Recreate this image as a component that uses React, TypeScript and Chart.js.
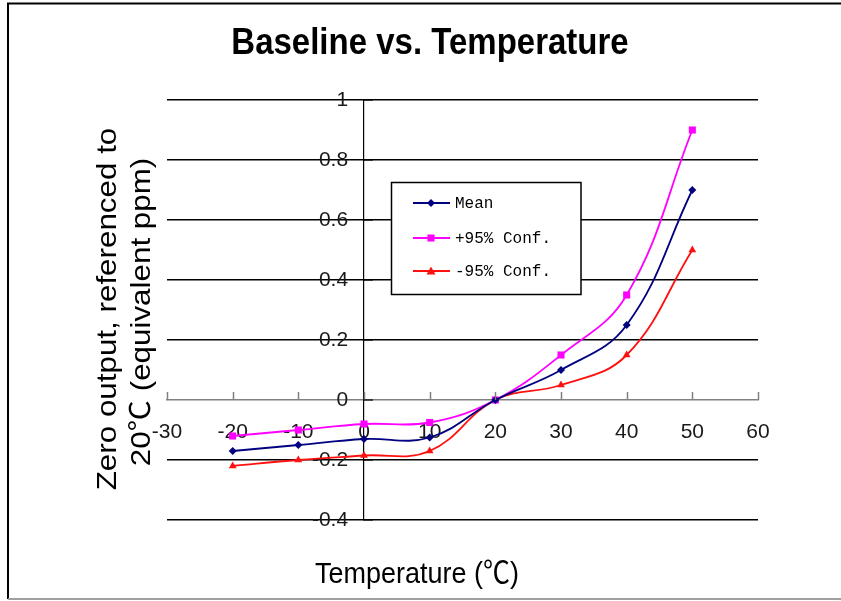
import React, { useEffect, useRef } from 'react';
import { Chart, registerables } from 'chart.js';

Chart.register(...registerables);

// ---- data ----
const temperatures = [-20, -10, 0, 10, 20, 30, 40, 50];
const meanValues = [-0.17, -0.15, -0.13, -0.125, 0, 0.1, 0.25, 0.7];
const plus95Values = [-0.12, -0.1, -0.08, -0.075, 0, 0.15, 0.35, 0.9];
const minus95Values = [-0.22, -0.2, -0.185, -0.17, 0, 0.05, 0.15, 0.5];
const seriesLabels = ['Mean', '+95% Conf.', '-95% Conf.'];
const chartTitle = 'Baseline vs. Temperature';
const xAxisTitle = 'Temperature (℃)';
const yAxisTitleLines = ['Zero output, referenced to', '20℃ (equivalent ppm)'];
const xRange = { min: -30, max: 60, step: 10 };
const yRange = { min: -0.4, max: 1, step: 0.2 };

const SANS = '"Liberation Sans", Arial, "Noto Sans CJK SC", sans-serif';
const MONO = '"Liberation Mono", "Courier New", monospace';

function drawMarker(ctx: CanvasRenderingContext2D, style: string, x: number, y: number, r: number, color: string) {
  ctx.save();
  ctx.fillStyle = color;
  ctx.strokeStyle = color;
  ctx.beginPath();
  if (style === 'rectRot') {
    ctx.moveTo(x, y - r);
    ctx.lineTo(x + r, y);
    ctx.lineTo(x, y + r);
    ctx.lineTo(x - r, y);
  } else if (style === 'rect') {
    const s = r * Math.SQRT1_2;
    ctx.rect(x - s, y - s, 2 * s, 2 * s);
  } else {
    const h = r * 1.5;
    ctx.moveTo(x, y - r);
    ctx.lineTo(x + r * 0.866 * 1.15, y + h / 2);
    ctx.lineTo(x - r * 0.866 * 1.15, y + h / 2);
  }
  ctx.closePath();
  ctx.fill();
  ctx.restore();
}

const decorPlugin = {
  id: 'decor',
  beforeDraw(chart: any) {
    const ctx: CanvasRenderingContext2D = chart.ctx;
    ctx.save();
    ctx.fillStyle = '#ffffff';
    ctx.fillRect(0, 0, chart.width, chart.height);
    ctx.strokeStyle = '#000000';
    ctx.lineWidth = 2;
    ctx.beginPath();
    ctx.moveTo(8, 599);
    ctx.lineTo(8, 3.5);
    ctx.lineTo(chart.width, 3.5);
    ctx.stroke();
    ctx.strokeStyle = '#a0a0a0';
    ctx.beginPath();
    ctx.moveTo(8, 599);
    ctx.lineTo(chart.width, 599);
    ctx.stroke();
    ctx.restore();
  },
  afterDraw(chart: any) {
    const ctx: CanvasRenderingContext2D = chart.ctx;
    const xs = chart.scales.x;
    const ys = chart.scales.y;
    const x0 = xs.getPixelForValue(0);
    const y0 = ys.getPixelForValue(0);

    ctx.save();
    // x-axis tick marks pointing up
    ctx.strokeStyle = '#808080';
    ctx.lineWidth = 1.5;
    xs.ticks.forEach((t: any) => {
      const px = Math.round(xs.getPixelForValue(t.value)) + 0.5;
      ctx.beginPath();
      ctx.moveTo(px, y0);
      ctx.lineTo(px, y0 - 8);
      ctx.stroke();
    });
    // y-axis tick marks pointing right
    ctx.strokeStyle = '#000000';
    ctx.lineWidth = 1.2;
    ys.ticks.forEach((t: any) => {
      const py = ys.getPixelForValue(t.value);
      ctx.beginPath();
      ctx.moveTo(x0, py);
      ctx.lineTo(x0 + 9, py);
      ctx.stroke();
    });

    // title
    ctx.fillStyle = '#000000';
    ctx.save();
    ctx.translate(430, 54);
    ctx.scale(1, 1.12);
    ctx.font = `bold 33px ${SANS}`;
    ctx.textAlign = 'center';
    ctx.textBaseline = 'alphabetic';
    ctx.fillText(chartTitle, 0, 0);
    ctx.restore();

    // x axis title
    ctx.save();
    ctx.translate(417, 583);
    ctx.scale(1, 1.12);
    ctx.font = `27px ${SANS}`;
    ctx.textAlign = 'center';
    ctx.textBaseline = 'alphabetic';
    ctx.fillText(xAxisTitle, 0, 0);
    ctx.restore();

    // y axis title (two lines)
    const yCenters = [[108, 309], [142, 312]];
    yAxisTitleLines.forEach((line, i) => {
      ctx.save();
      ctx.translate(yCenters[i][0], yCenters[i][1]);
      ctx.rotate(-Math.PI / 2);
      ctx.scale(1.12, 1);
      ctx.font = `28px ${SANS}`;
      ctx.textAlign = 'center';
      ctx.textBaseline = 'middle';
      ctx.fillText(line, 0, 0);
      ctx.restore();
    });

    // legend box
    const bx = 391.5, by = 182.5, bw = 189.5, bh = 112;
    ctx.fillStyle = '#ffffff';
    ctx.fillRect(bx, by, bw, bh);
    ctx.strokeStyle = '#000000';
    ctx.lineWidth = 1.5;
    ctx.strokeRect(bx, by, bw, bh);
    const rows = [203, 238, 271];
    chart.data.datasets.forEach((ds: any, i: number) => {
      const ry = rows[i];
      ctx.strokeStyle = ds.borderColor;
      ctx.lineWidth = ds.borderWidth;
      ctx.beginPath();
      ctx.moveTo(413, ry);
      ctx.lineTo(450, ry);
      ctx.stroke();
      drawMarker(ctx, ds.pointStyle, 431, ry, ds.pointRadius, ds.borderColor);
      ctx.fillStyle = '#000000';
      ctx.font = `16px ${MONO}`;
      ctx.textAlign = 'left';
      ctx.textBaseline = 'middle';
      ctx.fillText(ds.label, 455, ry + 1);
    });
    ctx.restore();
  },
};

function toPoints(values: number[]) {
  return temperatures.map((t, i) => ({ x: t, y: values[i] }));
}

export default function App() {
  const canvasRef = useRef<HTMLCanvasElement | null>(null);

  useEffect(() => {
    const canvas = canvasRef.current;
    if (!canvas) return;
    const chart = new Chart(canvas, {
      type: 'line',
      data: {
        datasets: [
          {
            label: seriesLabels[0],
            data: toPoints(meanValues),
            borderColor: '#000080',
            backgroundColor: '#000080',
            pointStyle: 'rectRot',
            pointRadius: 4,
            pointBorderWidth: 0,
            borderWidth: 1.8,
            tension: 0.4,
            fill: false,
          },
          {
            label: seriesLabels[1],
            data: toPoints(plus95Values),
            borderColor: '#ff00ff',
            backgroundColor: '#ff00ff',
            pointStyle: 'rect',
            pointRadius: 5,
            pointBorderWidth: 0,
            borderWidth: 1.8,
            tension: 0.4,
            fill: false,
          },
          {
            label: seriesLabels[2],
            data: toPoints(minus95Values),
            borderColor: '#ff1010',
            backgroundColor: '#ff1010',
            pointStyle: 'triangle',
            pointRadius: 4.5,
            pointBorderWidth: 0,
            borderWidth: 1.8,
            tension: 0.4,
            fill: false,
          },
        ],
      } as any,
      options: {
        responsive: false,
        animation: false,
        layout: { padding: { left: 167, right: 83, top: 100, bottom: 81 } },
        plugins: {
          legend: { display: false },
          title: { display: false },
          tooltip: { enabled: false },
        },
        scales: {
          x: {
            type: 'linear',
            position: { y: 0 } as any,
            min: xRange.min,
            max: xRange.max,
            ticks: {
              stepSize: xRange.step,
              padding: 20,
              autoSkip: false,
              maxRotation: 0,
              color: '#1a1a1a',
              font: { size: 21, family: SANS },
            },
            grid: { drawOnChartArea: false, drawTicks: false },
            border: { color: '#808080', width: 1.5 },
          },
          y: {
            type: 'linear',
            position: { x: 0 } as any,
            min: yRange.min,
            max: yRange.max,
            ticks: {
              stepSize: yRange.step,
              color: '#1a1a1a',
              font: { size: 21, family: SANS },
              callback: (v: any) => `${Number(Number(v).toFixed(1))}  \u2009`,
            },
            grid: {
              drawTicks: false,
              lineWidth: 1.5,
              color: (c: any) => (c.tick && Math.abs(c.tick.value) < 1e-9 ? 'rgba(0,0,0,0)' : '#000000'),
            },
            border: { color: '#000000', width: 1.2 },
          },
        },
      },
      plugins: [decorPlugin],
    });
    return () => chart.destroy();
  }, []);

  return (
    <div style={{ position: 'fixed', left: 0, top: 0, width: 841, height: 601, background: '#fff' }}>
      <canvas ref={canvasRef} width={841} height={601} style={{ width: 841, height: 601, display: 'block' }} />
    </div>
  );
}
